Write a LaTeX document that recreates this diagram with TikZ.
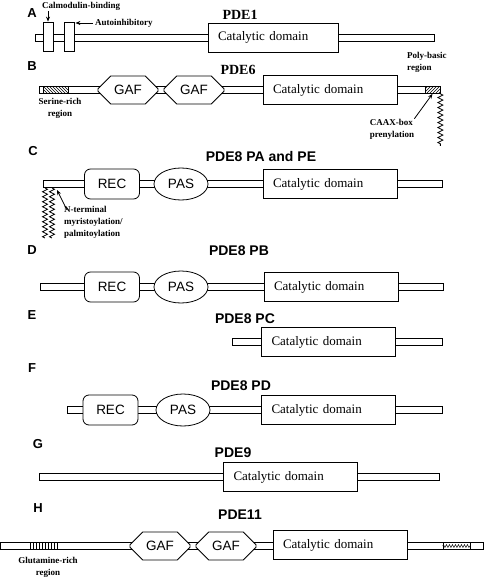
\documentclass[tikz,border=0pt]{standalone}
\usepackage{fontspec}
\setmainfont{Liberation Serif}
\newfontfamily\arialfont{Liberation Sans}
\usetikzlibrary{shapes.geometric,shapes.misc,patterns,decorations.pathmorphing,arrows.meta}
\begin{document}
\begin{tikzpicture}[x=1pt,y=-1pt,
  bar/.style={draw,fill=white,line width=0.7pt},
  hatch/.style={draw,line width=0.7pt,minimum height=7pt,inner sep=0pt},
  catbox/.style={shape=rectangle,draw,fill=white,line width=0.8pt,minimum height=29pt,inner xsep=10pt,text width=114pt,align=left,font=\fontsize{13}{13}\selectfont},
  gafbox/.style={shape=chamfered rectangle,draw,fill=white,line width=0.8pt,minimum width=60pt,minimum height=28pt,chamfered rectangle xsep=11pt,chamfered rectangle ysep=8pt,inner sep=0pt,font=\arialfont\fontsize{13.5}{13.5}\selectfont},
  recbox/.style={shape=rectangle,rounded corners=6pt,draw,fill=white,line width=0.8pt,minimum width=55pt,minimum height=30pt,font=\arialfont\fontsize{13.5}{13.5}\selectfont},
  pasbox/.style={shape=ellipse,draw,fill=white,line width=0.8pt,minimum width=54pt,minimum height=32pt,inner sep=0pt,font=\arialfont\fontsize{13.5}{13.5}\selectfont},
  cambox/.style={draw,fill=white,line width=0.8pt,minimum width=10pt,minimum height=29pt,inner sep=0pt},
  letter/.style={font=\arialfont\bfseries\fontsize{13}{13}\selectfont},
  pdesans/.style={font=\arialfont\bfseries\fontsize{14}{14}\selectfont},
  pdeserif/.style={font=\bfseries\fontsize{14}{14}\selectfont},
  note/.style={font=\bfseries\fontsize{9}{12}\selectfont,inner sep=0pt},
  pointer/.style={-{Stealth[length=5pt,width=4pt]},line width=0.8pt},
  wavy/.style={decorate,decoration={zigzag,segment length=5pt,amplitude=2.5pt},line width=0.8pt}]
\useasboundingbox (0,0) rectangle (484,580);
% A: PDE1
\node[letter] (labA) at (32,13) {A};
\node[pdeserif] (titA) at (240,15) {PDE1};
\draw[bar] (35,34) rectangle (434,41);
\node[cambox] (cam) at (48,36.5) {};
\node[cambox] (auto) at (69,36.5) {};
\node[catbox,text width=110pt] (catA) at (273,37.5) {Catalytic domain};
\node[note,anchor=west] (camtxt) at (42,6) {Calmodulin-binding};
\node[note,anchor=west] (autotxt) at (95,23) {Autoinhibitory};
\draw[pointer] ([yshift=-1pt]camtxt.south -| cam.north) -- (cam.north);
\draw[pointer] ([xshift=-2pt]autotxt.west) -- ([xshift=1pt]autotxt.west -| auto.east);
% B: PDE6
\node[letter] (labB) at (32,66) {B};
\node[pdeserif] (titB) at (238,70) {PDE6};
\draw[bar] (39,86.5) rectangle (440,93.5);
\node[hatch,pattern=north west lines,minimum width=25pt] (serB) at (55.5,90) {};
\node[gafbox] (gafB1) at (128,90) {GAF};
\node[gafbox] (gafB2) at (194,90) {GAF};
\node[catbox] (catB) at (330,90) {Catalytic domain};
\node[hatch,pattern=north east lines,minimum width=15pt] (polyB) at (432.5,90) {};
\node[note,align=center] (sertxt) at (60,108) {Serine-rich\\region};
\node[note,align=left,anchor=south west] (polytxt) at (407,73) {Poly-basic\\region};
\node[note,align=left] (caaxtxt) at (392,129) {CAAX-box\\prenylation};
\draw[pointer] (caaxtxt.north east) -- (polyB.south);
\draw[wavy] (polyB.south east) -- ++(0,52);
% C: PDE8 PA and PE
\node[letter] (labC) at (33,151) {C};
\node[pdesans] (titC) at (261,156) {PDE8 PA and PE};
\draw[bar] (43,180.5) rectangle (442,187.5);
\node[recbox] (recC) at (112,184) {REC};
\node[pasbox] (pasC) at (181,184) {PAS};
\node[catbox] (catC) at (330,184) {Catalytic domain};
\draw[wavy] (45,188) -- (45,238);
\draw[wavy] (52,188) -- (52,238);
\coordinate (myrC) at (57,190);
\node[note,align=left,anchor=north west] (myrtxt) at (64,206) {N-terminal\\myristoylation/\\palmitoylation};
\draw[pointer] ([xshift=3pt,yshift=-4pt]myrtxt.north west) -- (myrC);
% D: PDE8 PB
\node[letter] (labD) at (32,250) {D};
\node[pdesans] (titD) at (239,251) {PDE8 PB};
\draw[bar] (40,283.5) rectangle (443,290.5);
\node[recbox] (recD) at (112,287) {REC};
\node[pasbox] (pasD) at (181,287) {PAS};
\node[catbox] (catD) at (331,287) {Catalytic domain};
% E: PDE8 PC
\node[letter] (labE) at (32,315) {E};
\node[pdesans] (titE) at (245,319) {PDE8 PC};
\draw[bar] (232,338.5) rectangle (442,345.5);
\node[catbox] (catE) at (328.5,342) {Catalytic domain};
% F: PDE8 PD
\node[letter] (labF) at (32,368) {F};
\node[pdesans] (titF) at (241,386) {PDE8 PD};
\draw[bar] (67,406.5) rectangle (442,413.5);
\node[recbox] (recF) at (110.5,410) {REC};
\node[pasbox] (pasF) at (183,410) {PAS};
\node[catbox] (catF) at (328.5,410) {Catalytic domain};
% G: PDE9
\node[letter] (labG) at (38,444) {G};
\draw[bar] (39,473.5) rectangle (439,480.5);
\node[catbox] (catG) at (290.5,477) {Catalytic domain};
\node[pdesans] (titG) at (233,453) {PDE9};
% H: PDE11
\node[letter] (labH) at (38,508) {H};
\node[pdesans] (titH) at (240,515) {PDE11};
\draw[bar] (0.5,542.5) rectangle (483.5,549.5);
\node[hatch,pattern=vertical lines,minimum width=27pt] (gluH) at (43.5,546) {};
\node[gafbox] (gafH1) at (160,546) {GAF};
\node[gafbox] (gafH2) at (226,546) {GAF};
\node[catbox] (catH) at (340,545) {Catalytic domain};
\node[hatch,minimum width=27pt] (wavH) at (456.5,546) {};
\draw[decorate,decoration={zigzag,segment length=3pt,amplitude=1.5pt},line width=0.4pt] (wavH.west) -- (wavH.east);
\node[note,align=center] (glutxt) at (48,567) {Glutamine-rich\\region};
\end{tikzpicture}
\end{document}
